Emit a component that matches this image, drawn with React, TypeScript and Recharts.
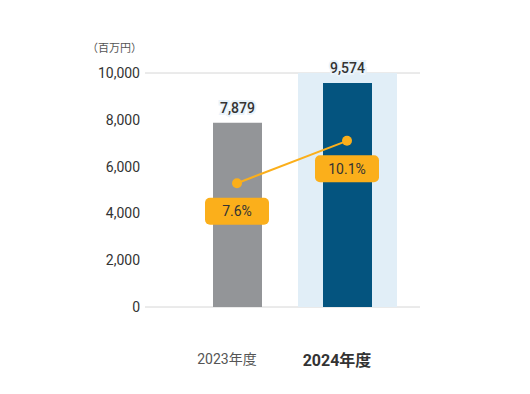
import React from 'react';
import { ComposedChart, Bar, Line, XAxis, YAxis, CartesianGrid, Cell, LabelList, Label } from 'recharts';

const years = ['2023年度', '2024年度'];
const sales = [7879, 9574];
const rates = [7.6, 10.1];
const yTicks = [0, 2000, 4000, 6000, 8000, 10000];

const barColors = ['#939598', '#04547F'];
const HIGHLIGHT = '#E1EEF7';
const ORANGE = '#FBAF1B';
const FONT = "Roboto, 'Noto Sans CJK JP', sans-serif";

const data = years.map((year, i) => ({ year, sales: sales[i], rate: rates[i] }));

const HighlightBackground = (props: any) => {
	const { x, y, width, height, index, payload } = props;
	if (index !== 1 && payload?.year !== years[1]) return <g />;
	const w = 99;
	return <rect x={x + width / 2 - w / 2} y={y} width={w} height={height} fill={HIGHLIGHT} />;
};

const ValueLabel = (props: any) => {
	const { x, y, width, value } = props;
	return (
		<text
			x={x + width / 2}
			y={y - 10}
			textAnchor="middle"
			fontSize={14}
			fontWeight={500}
			fill="#333"
			stroke="#EAF3FA"
			strokeWidth={4}
			paintOrder="stroke"
			fontFamily={FONT}
		>
			{value.toLocaleString('en-US')}
		</text>
	);
};

const RateLabel = (props: any) => {
	const { x, y, value } = props;
	const w = 64;
	const h = 27;
	const cy = y + 28;
	return (
		<g>
			<rect x={x - w / 2} y={cy - h / 2} width={w} height={h} rx={5} fill={ORANGE} />
			<text x={x} y={cy + 5} textAnchor="middle" fontSize={14} fill="#333" fontFamily={FONT}>
				{`${value}%`}
			</text>
		</g>
	);
};

const YearTick = (props: any) => {
	const { x, y, payload } = props;
	const isLatest = payload.value === years[years.length - 1];
	return (
		<text
			x={x - 10}
			y={y + (isLatest ? 51 : 49)}
			textAnchor="middle"
			fontSize={isLatest ? 16 : 14}
			fontWeight={isLatest ? 700 : 400}
			fill={isLatest ? '#333' : '#555'}
			fontFamily={FONT}
		>
			{payload.value}
		</text>
	);
};

export default function App() {
	return (
		<div style={{ position: 'absolute', left: 0, top: 0, width: 530, height: 394, background: '#fff' }}>
			<ComposedChart width={530} height={394} data={data} margin={{ top: 73, right: 110, bottom: 0, left: 0 }}>
				<CartesianGrid vertical={false} stroke="#D6D6D6" />
				<XAxis
					dataKey="year"
					axisLine={false}
					tickLine={false}
					height={87}
					padding={{ left: 37, right: 18 }}
					tick={<YearTick />}
					interval={0}
				/>
				<YAxis
					yAxisId="left"
					width={145}
					domain={[0, 10000]}
					ticks={yTicks}
					axisLine={false}
					tickLine={false}
					tickSize={0}
					tickMargin={5}
					tick={{ fontSize: 14, fill: '#333', fontFamily: FONT }}
					tickFormatter={(v: number) => v.toLocaleString('en-US')}
				>
					<Label
						content={(p: any) => (
							<text
								x={p.viewBox.x + p.viewBox.width - 3}
								y={p.viewBox.y - 21}
								textAnchor="end"
								fontSize={11}
								fill="#555"
								fontFamily={FONT}
							>
								（百万円）
							</text>
						)}
					/>
				</YAxis>
				<YAxis yAxisId="right" orientation="right" hide domain={[0.3, 14.1]} />
				<Bar
					yAxisId="left"
					dataKey="sales"
					barSize={49}
					isAnimationActive={false}
					background={<HighlightBackground />}
				>
					{data.map((d, i) => (
						<Cell key={d.year} fill={barColors[i]} />
					))}
					<LabelList dataKey="sales" content={<ValueLabel />} />
				</Bar>
				<Line
					yAxisId="right"
					dataKey="rate"
					stroke={ORANGE}
					strokeWidth={2}
					dot={{ r: 5, fill: ORANGE, stroke: ORANGE, strokeWidth: 0 }}
					activeDot={false}
					isAnimationActive={false}
				>
					<LabelList dataKey="rate" content={<RateLabel />} />
				</Line>
			</ComposedChart>
		</div>
	);
}
